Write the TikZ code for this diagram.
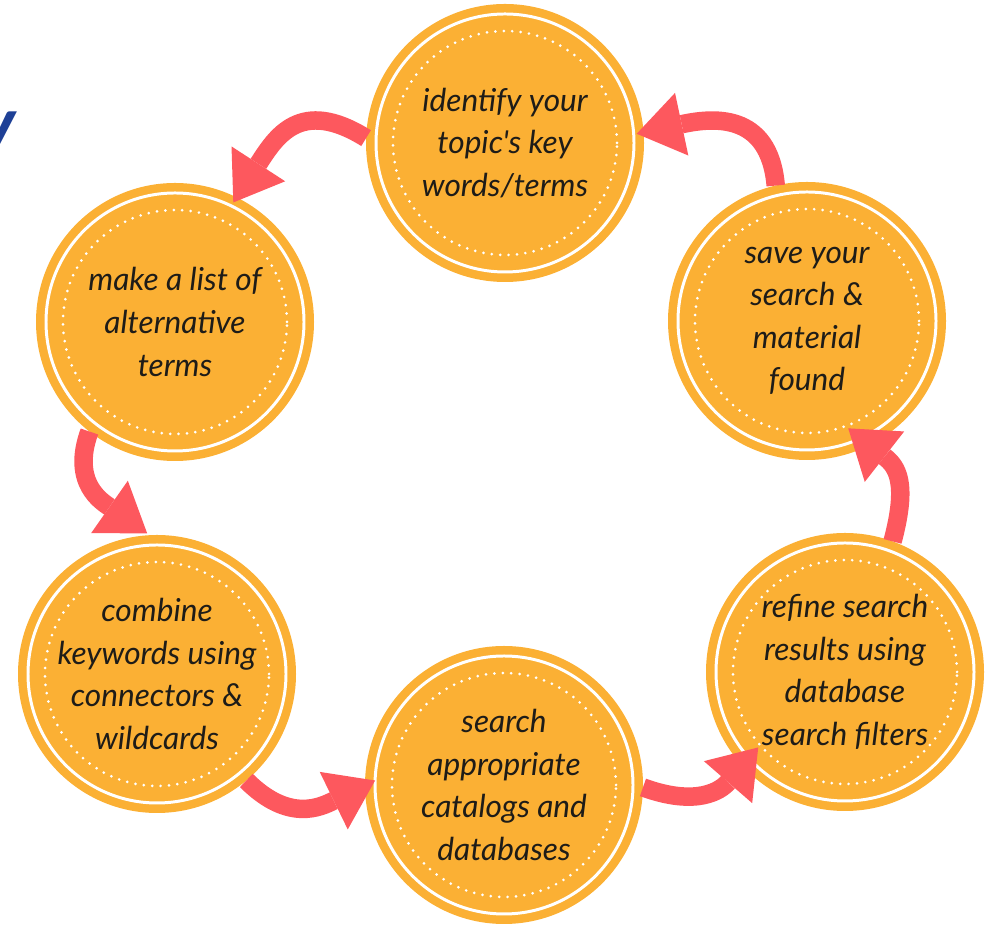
\documentclass[tikz,border=0pt]{standalone}
\usepackage{fontspec}
\newfontfamily\stagefont{Lato}
\usetikzlibrary{arrows.meta,calc}
\definecolor{stageorange}{RGB}{251,176,52}
\definecolor{flowred}{RGB}{253,88,94}
\definecolor{titleblue}{RGB}{30,64,150}
\definecolor{inkdark}{RGB}{30,28,24}

\begin{document}
\begin{tikzpicture}[%
 stage/.style={
 	circle,
 	fill=stageorange,
 	minimum size=5.56cm,
 	inner sep=0pt,
 	outer sep=0pt,
 	align=center,
 	text=inkdark,
 	font=\stagefont\itshape\fontsize{18}{24.2}\selectfont,
 	path picture={
 		\draw[white,line width=1.7pt] (path picture bounding box.center) circle (2.58cm);
 		\draw[white,line width=1.7pt,line cap=round,dash pattern=on 0pt off 4.8pt] (path picture bounding box.center) circle (2.24cm);
 	}
 },
 flow/.style={
 	draw=flowred,
 	line width=0.37cm,
 	-{Triangle[width=1.28cm,length=0.92cm,line width=0pt]}
 },
 title/.style={
 	text=titleblue,
 	inner sep=0pt,
 	font=\stagefont\bfseries\itshape\fontsize{44}{50}\selectfont
 }
 ]
\useasboundingbox (0,0) rectangle (19.8,18.54);
\path (10.10,15.68) node[stage] (ident) {identify your\\topic's key\\words/terms}
 (3.50,12.10) node[stage] (alter) {make a list of\\alternative\\terms}
 (16.14,12.12) node[stage] (save) {save your\\search \&\\material\\found}
 (3.14,5.06) node[stage] (combi) {combine\\keywords using\\connectors \&\\wildcards}
 (10.08,2.84) node[stage] (catal) {search\\appropriate\\catalogs and\\databases}
 (16.90,5.10) node[stage] (refin) {refine search\\results using\\database\\search filters};
\node[title, anchor=base east] (ttl) at (0.32,15.50) {y};

\draw[flow] (ident.178) to[out=148,in=57,looseness=1.35] ($(alter)+(64:2.66)$);
\draw[flow] (save.103) to[out=95,in=12,looseness=1.3] ($(ident)+(4:2.64)$);
\draw[flow] (alter.232) to[out=250,in=145,looseness=1.2] ($(combi)+(94:2.82)$);
\draw[flow] (combi.-50) to[out=-45,in=206,looseness=1.2] ($(catal)+(178:2.58)$);
\draw[flow] (catal.-1) to[out=-20,in=229,looseness=1.2] ($(refin)+(221:2.30)$);
\draw[flow] (refin.70) to[out=75,in=-38,looseness=1.3] ($(save)+(-69:2.30)$);
\end{tikzpicture}
\end{document}
